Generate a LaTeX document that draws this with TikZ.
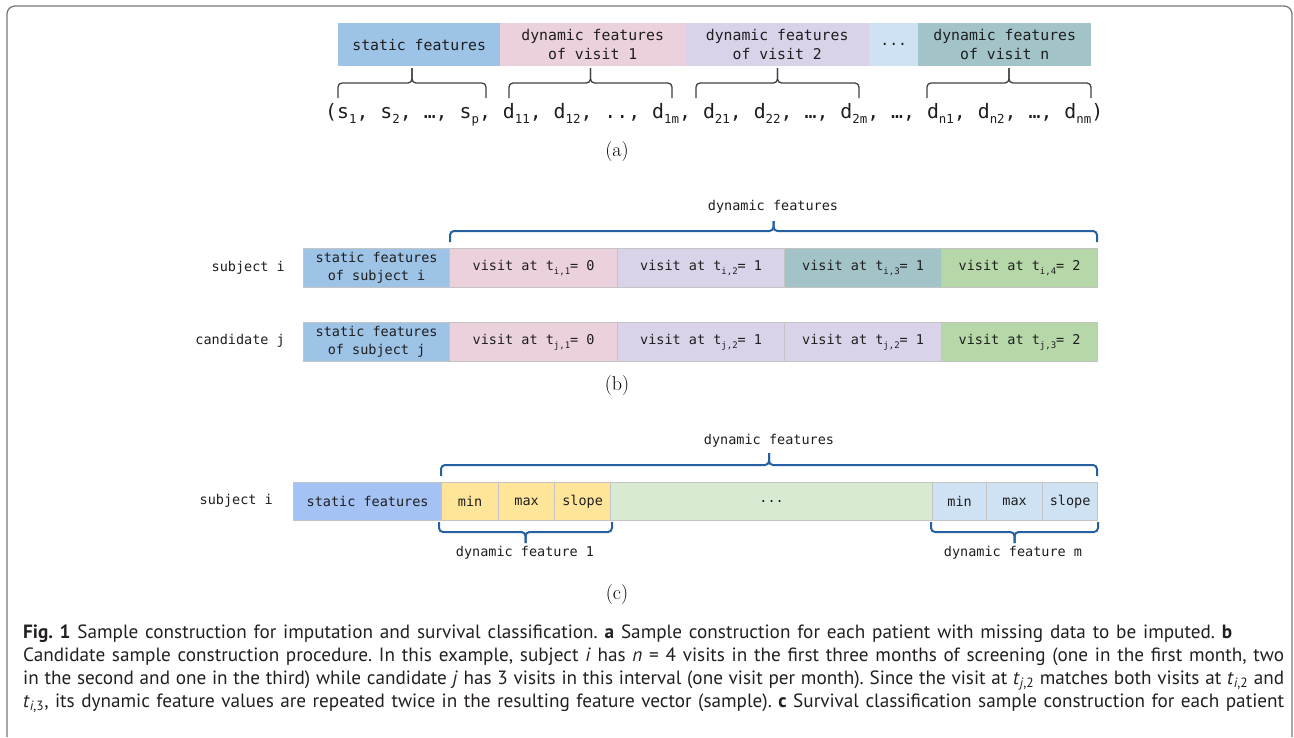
\documentclass[tikz,border=0pt]{standalone}
\usepackage{fontspec}
\usepackage{graphicx}
\newfontfamily\monof{DejaVu Sans Mono}
\newfontfamily\capf{PT Sans}
\definecolor{txt}{RGB}{30,30,30}
\definecolor{captxt}{RGB}{35,31,32}
\definecolor{framec}{RGB}{120,120,120}
\definecolor{cellline}{RGB}{196,196,196}
\definecolor{bracea}{RGB}{64,64,64}
\definecolor{braceb}{RGB}{38,96,160}
\definecolor{cblue}{RGB}{157,195,230}
\definecolor{cblueb}{RGB}{164,194,244}
\definecolor{cpink}{RGB}{234,209,220}
\definecolor{clav}{RGB}{217,210,233}
\definecolor{clight}{RGB}{207,226,243}
\definecolor{cteal}{RGB}{162,196,201}
\definecolor{cgreen}{RGB}{182,215,168}
\definecolor{cpale}{RGB}{217,234,211}
\definecolor{cyellow}{RGB}{255,229,153}
\newcommand\fsub[1]{\raisebox{-6pt}{\fontsize{12.5}{12.5}\selectfont #1}}
\newcommand\msub[1]{\raisebox{-3.5pt}{\fontsize{9}{9}\selectfont #1}}
\newcommand\fbrace[7]{%
  \draw[#1] (#2,#5) -- (#2,#6) -- (#4,#6) -- (#4,#7);
  \draw[#1] (#4,#7) -- (#4,#6) -- (#3,#6) -- (#3,#5);}
\begin{document}
\begin{tikzpicture}[x=1pt,y=-1pt,
  acell/.style={inner sep=0pt, anchor=north west, minimum height=43pt, align=center,
    font=\monof\fontsize{14.8}{19.3}\selectfont, text=txt},
  bcell/.style={draw=cellline, line width=1.2pt, inner sep=0pt, anchor=north west,
    minimum height=39pt, align=center, font=\monof\fontsize{13.5}{18.3}\selectfont, text=txt},
  ccell/.style={bcell, minimum height=38pt},
  rowlabel/.style={anchor=east, inner sep=0pt, font=\monof\fontsize{13.5}{16}\selectfont, text=txt},
  bracetext/.style={inner sep=0pt, font=\monof\fontsize{13.5}{16}\selectfont, text=txt},
  panel/.style={inner sep=0pt, font=\fontsize{20}{24}\selectfont},
  abrace/.style={draw=bracea, line width=1.3pt, rounded corners=4pt},
  bbrace/.style={draw=braceb, line width=2pt, rounded corners=4pt},
  capline/.style={anchor=base west, inner sep=0pt, font=\capf\fontsize{19.2}{23}\selectfont\frenchspacing, text=captxt}]
\useasboundingbox (0,0) rectangle (1294,737);
\draw[framec, line width=1.3pt, rounded corners=8pt] (7,737) -- (7,6) -- (1292,6) -- (1292,737);

% ---------- (a)
\node[acell, fill=cblue, minimum width=162pt] (as) at (338,23) {static features};
\node[acell, fill=cpink, minimum width=185pt] (a1) at (500,23) {dynamic features\\of visit 1};
\node[acell, fill=clav, minimum width=184pt] (a2) at (685,23) {dynamic features\\of visit 2};
\node[acell, fill=clight, minimum width=49pt] (ad) at (869,23) {...};
\node[acell, fill=cteal, minimum width=173pt] (an) at (918,23) {dynamic features\\of visit n};
\fbrace{abrace}{338}{486}{412}{98}{83}{68}
\fbrace{abrace}{509}{672}{590.5}{98}{83}{68}
\fbrace{abrace}{696}{859}{777.5}{98}{83}{68}
\fbrace{abrace}{927}{1091}{1009}{98}{83}{68}
\node[anchor=base west, inner sep=0pt, text=txt] (formula) at (325,118) {\resizebox{778pt}{!}{\monof\fontsize{20}{24}\selectfont
(s\fsub{1}, s\fsub{2}, …, s\fsub{p}, d\fsub{11}, d\fsub{12}, .., d\fsub{1m}, d\fsub{21}, d\fsub{22}, …, d\fsub{2m}, …, d\fsub{n1}, d\fsub{n2}, …, d\fsub{nm})}};
\node[panel] (la) at (617,152) {(a)};

% ---------- (b)
\node[bracetext] (bdyn) at (773,207) {dynamic features};
\fbrace{bbrace}{450}{1097}{773.5}{242}{231}{221}
\node[rowlabel] (bsi) at (285,268) {subject i};
\node[bcell, fill=cblue, minimum width=146pt] (bis) at (303,248) {static features\\of subject i};
\node[bcell, fill=cpink, minimum width=168pt] (bi1) at (449,248) {visit at t\msub{i,1}= 0};
\node[bcell, fill=clav, minimum width=167pt] (bi2) at (617,248) {visit at t\msub{i,2}= 1};
\node[bcell, fill=cteal, minimum width=157pt] (bi3) at (784,248) {visit at t\msub{i,3}= 1};
\node[bcell, fill=cgreen, minimum width=156pt] (bi4) at (941,248) {visit at t\msub{i,4}= 2};
\node[rowlabel] (bcj) at (285,341) {candidate j};
\node[bcell, fill=cblue, minimum width=146pt] (bjs) at (303,322) {static features\\of subject j};
\node[bcell, fill=cpink, minimum width=168pt] (bj1) at (449,322) {visit at t\msub{j,1}= 0};
\node[bcell, fill=clav, minimum width=167pt] (bj2) at (617,322) {visit at t\msub{j,2}= 1};
\node[bcell, fill=clav, minimum width=157pt] (bj3) at (784,322) {visit at t\msub{j,2}= 1};
\node[bcell, fill=cgreen, minimum width=156pt] (bj4) at (941,322) {visit at t\msub{j,3}= 2};
\node[panel] (lb) at (617,386) {(b)};

% ---------- (c)
\node[bracetext] (cdyn) at (769,441) {dynamic features};
\fbrace{bbrace}{441}{1097}{769}{476}{465}{453}
\node[rowlabel] (csi) at (273,501) {subject i};
\node[ccell, fill=cblueb, minimum width=148pt] (cs) at (293,482) {static features};
\node[ccell, fill=cyellow, minimum width=57pt] (c1a) at (441,482) {min};
\node[ccell, fill=cyellow, minimum width=56pt] (c1b) at (498,482) {max};
\node[ccell, fill=cyellow, minimum width=56pt] (c1c) at (554,482) {slope};
\node[ccell, fill=cpale, minimum width=322pt] (cd) at (610,482) {...};
\node[ccell, fill=clight, minimum width=54pt] (cma) at (932,482) {min};
\node[ccell, fill=clight, minimum width=56pt] (cmb) at (986,482) {max};
\node[ccell, fill=clight, minimum width=55pt] (cmc) at (1042,482) {slope};
\fbrace{bbrace}{439}{612}{525.5}{522}{532}{543}
\fbrace{bbrace}{931}{1098}{1014.5}{522}{532}{543}
\node[bracetext] (cf1) at (525,553) {dynamic feature 1};
\node[bracetext] (cfm) at (1013,553) {dynamic feature m};
\node[panel] (lc) at (617,595) {(c)};

% ---------- caption
\node[capline] (cap1) at (23,638) {\makebox[1209pt][s]{\textbf{Fig. 1} Sample construction for imputation and survival classification. \textbf{a} Sample construction for each patient with missing data to be imputed. \textbf{b}}};
\node[capline] (cap2) at (23,661) {\makebox[1261pt][s]{Candidate sample construction procedure. In this example, subject \textit{i} has \textit{n} = 4 visits in the first three months of screening (one in the first month, two}};
\node[capline] (cap3) at (23,684) {\makebox[1261pt][s]{in the second and one in the third) while candidate \textit{j} has 3 visits in this interval (one visit per month). Since the visit at \textit{t}\textsubscript{\textit{j},2} matches both visits at \textit{t}\textsubscript{\textit{i},2} and}};
\node[capline] (cap4) at (23,707) {\makebox[1261pt][s]{\textit{t}\textsubscript{\textit{i},3}, its dynamic feature values are repeated twice in the resulting feature vector (sample). \textbf{c} Survival classification sample construction for each patient}};
\end{tikzpicture}
\end{document}
